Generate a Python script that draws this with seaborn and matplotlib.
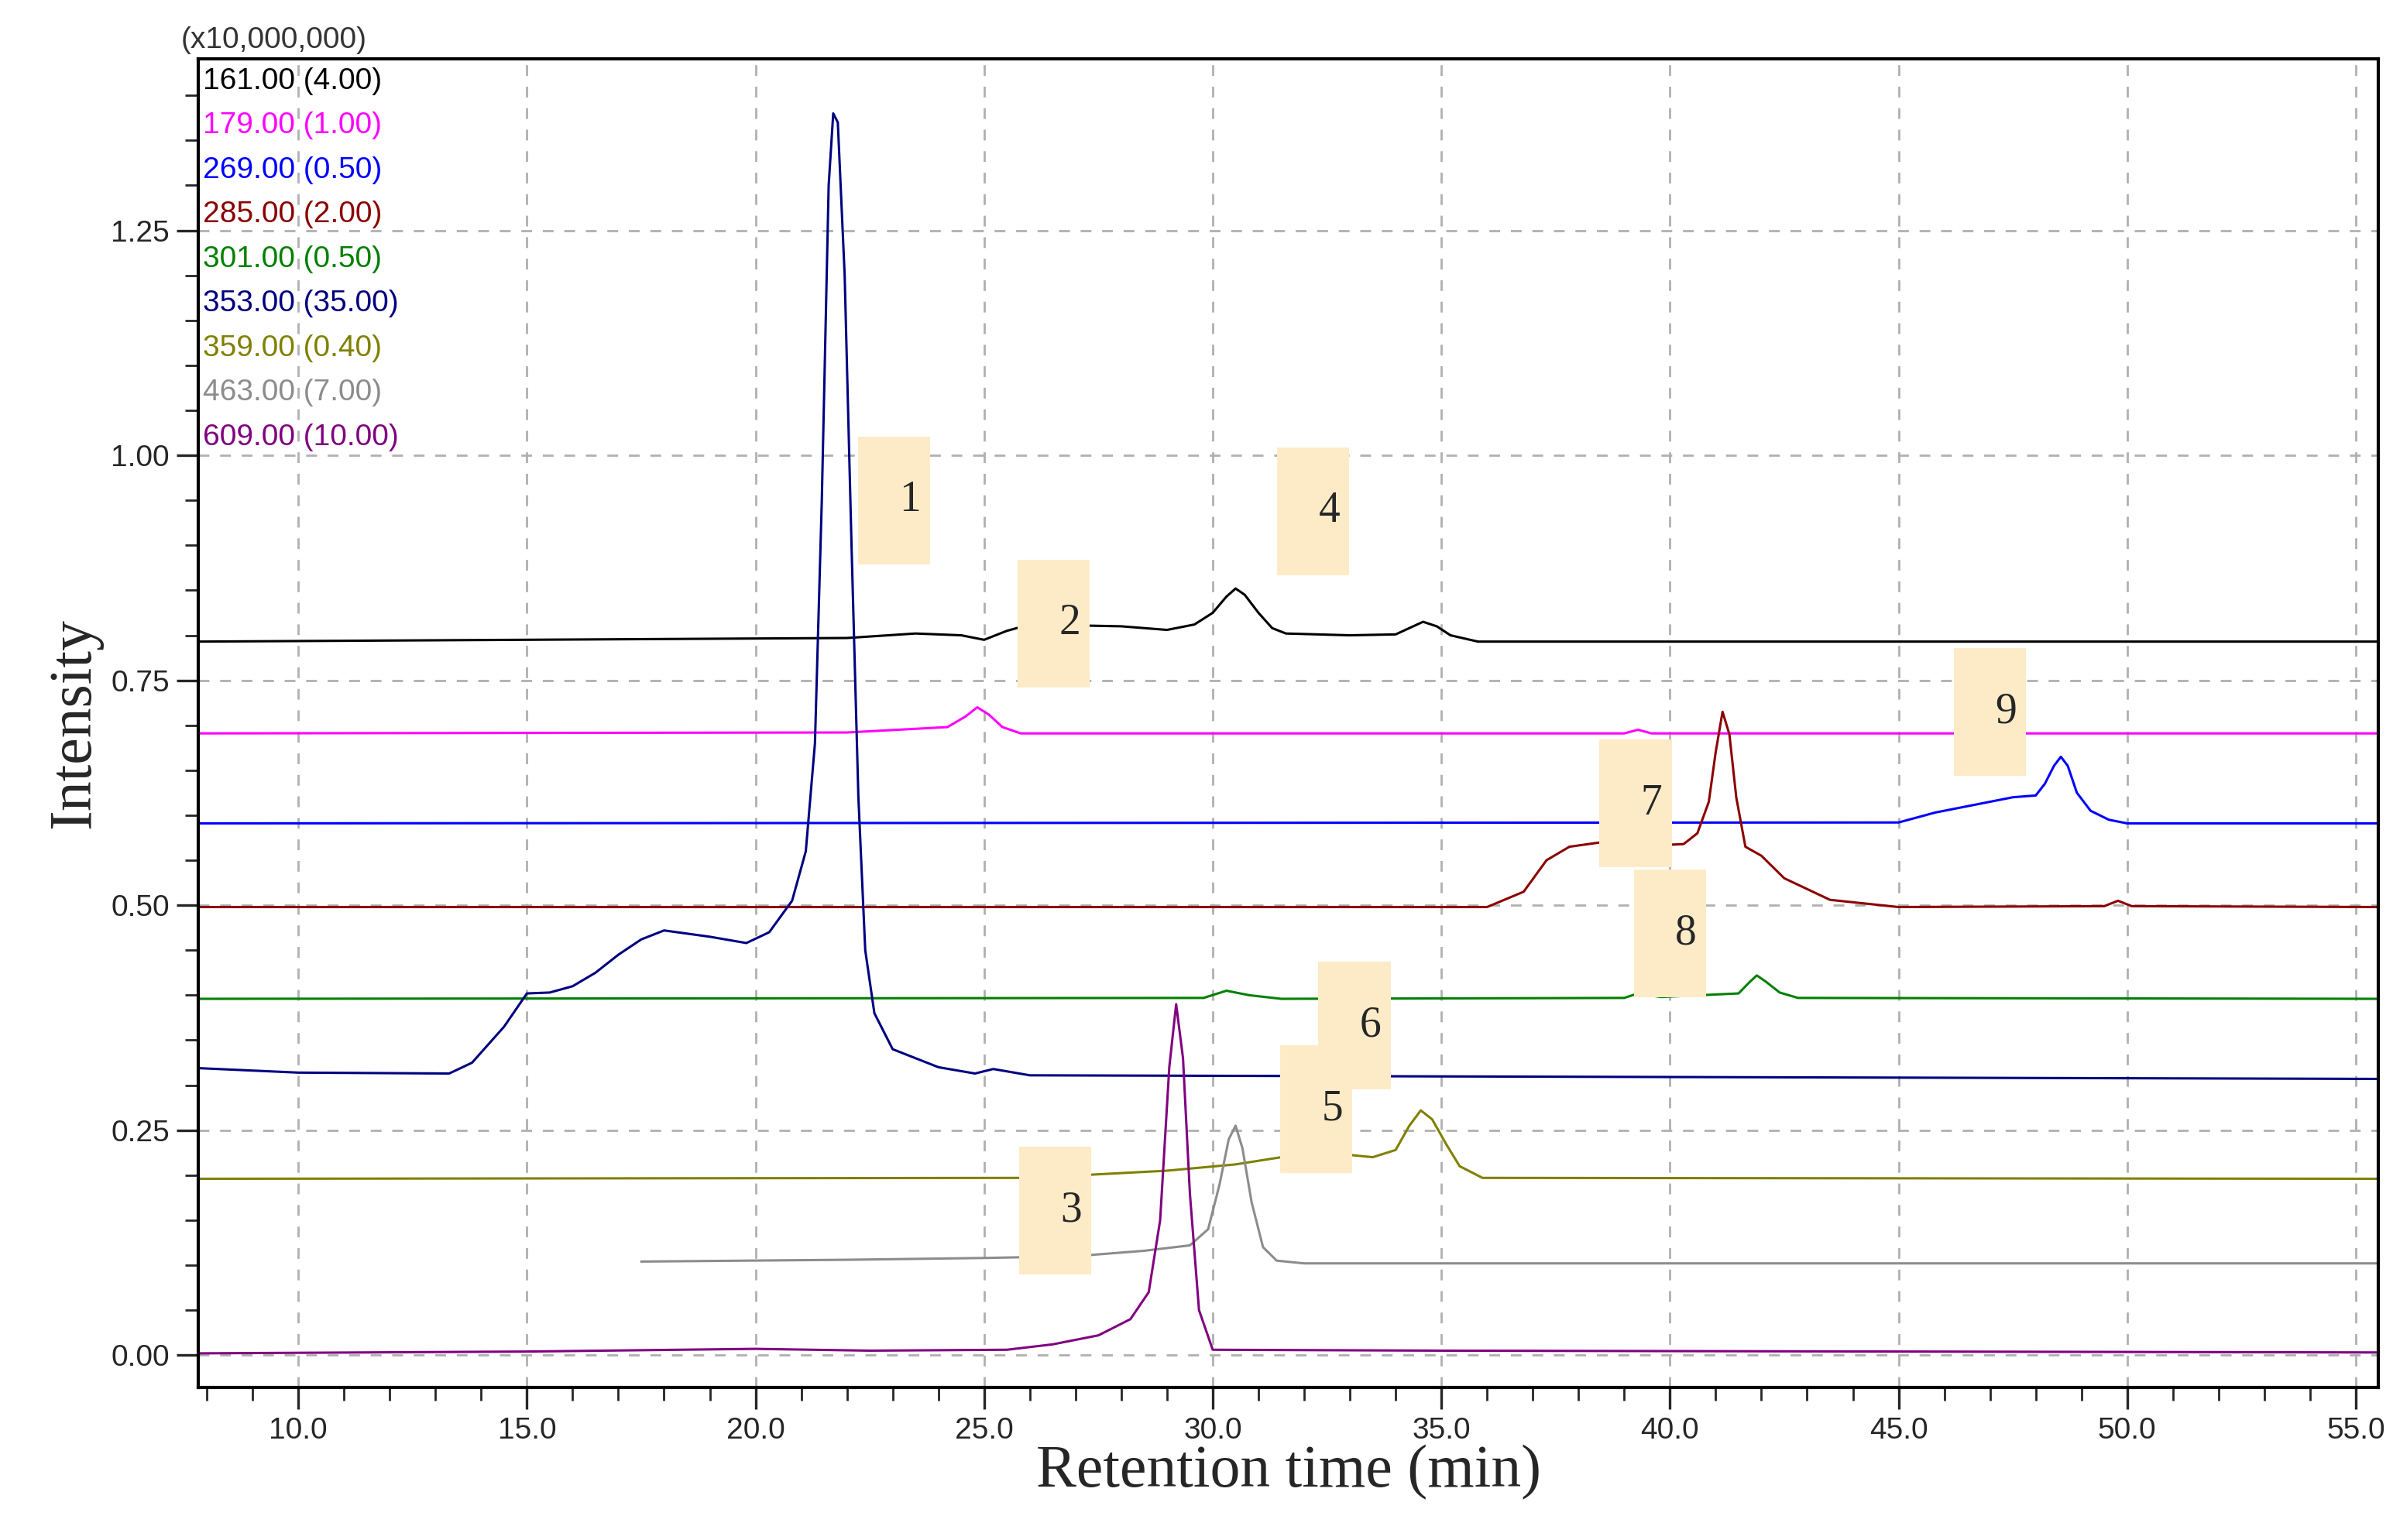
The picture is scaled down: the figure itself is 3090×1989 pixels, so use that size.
import pandas as pd
import matplotlib.pyplot as plt
import seaborn as sns
from matplotlib.patches import Rectangle
from matplotlib.ticker import MultipleLocator

# ---- traces: (retention time, intensity x1e7) ----
t161 = [7.8, 22.0, 23.5, 24.5, 25.0, 25.5, 26.0, 28.0, 29.0, 29.6, 30.0, 30.3, 30.5, 30.7, 31.0, 31.3, 31.6, 33.0, 34.0, 34.3, 34.6, 34.9, 35.2, 35.8, 55.5]
v161 = [0.793, 0.797, 0.802, 0.800, 0.795, 0.805, 0.812, 0.810, 0.806, 0.812, 0.825, 0.843, 0.852, 0.845, 0.825, 0.808, 0.802, 0.800, 0.801, 0.808, 0.815, 0.810, 0.800, 0.793, 0.793]
t179 = [7.8, 22.0, 24.2, 24.6, 24.85, 25.1, 25.4, 25.8, 39.0, 39.3, 39.6, 55.5]
v179 = [0.691, 0.692, 0.698, 0.710, 0.720, 0.712, 0.698, 0.691, 0.691, 0.695, 0.691, 0.691]
t269 = [7.8, 45.0, 45.8, 46.5, 47.5, 48.0, 48.2, 48.4, 48.55, 48.7, 48.9, 49.2, 49.6, 50.0, 55.5]
v269 = [0.591, 0.592, 0.603, 0.610, 0.620, 0.622, 0.635, 0.655, 0.665, 0.655, 0.625, 0.605, 0.595, 0.591, 0.591]
t285 = [7.8, 36.0, 36.8, 37.3, 37.8, 38.5, 39.5, 40.3, 40.6, 40.85, 41.0, 41.15, 41.3, 41.45, 41.65, 42.0, 42.5, 43.5, 45.0, 49.5, 49.8, 50.1, 55.5]
v285 = [0.498, 0.498, 0.515, 0.550, 0.565, 0.570, 0.566, 0.568, 0.580, 0.615, 0.670, 0.715, 0.690, 0.620, 0.565, 0.555, 0.530, 0.506, 0.498, 0.499, 0.505, 0.499, 0.498]
t301 = [7.8, 29.8, 30.3, 30.8, 31.5, 39.0, 39.3, 39.8, 41.5, 41.75, 41.9, 42.1, 42.4, 42.8, 55.5]
v301 = [0.396, 0.397, 0.405, 0.400, 0.396, 0.397, 0.402, 0.398, 0.402, 0.415, 0.422, 0.415, 0.403, 0.397, 0.396]
t353 = [7.8, 10.0, 13.3, 13.8, 14.5, 15.0, 15.5, 16.0, 16.5, 17.0, 17.5, 18.0, 19.0, 19.8, 20.3, 20.8, 21.1, 21.3, 21.45, 21.6, 21.7, 21.8, 21.95, 22.1, 22.25, 22.4, 22.6, 23.0, 24.0, 24.8, 25.2, 26.0, 55.5]
v353 = [0.319, 0.314, 0.313, 0.325, 0.365, 0.402, 0.403, 0.410, 0.425, 0.445, 0.462, 0.472, 0.465, 0.458, 0.470, 0.505, 0.560, 0.680, 0.950, 1.300, 1.380, 1.370, 1.200, 0.900, 0.620, 0.450, 0.380, 0.340, 0.320, 0.313, 0.318, 0.311, 0.307]
t359 = [7.8, 26.0, 27.5, 29.0, 30.5, 31.5, 32.5, 33.5, 34.0, 34.3, 34.55, 34.8, 35.1, 35.4, 35.9, 55.5]
v359 = [0.196, 0.197, 0.201, 0.205, 0.212, 0.220, 0.225, 0.220, 0.228, 0.255, 0.272, 0.262, 0.235, 0.210, 0.197, 0.196]
t463 = [17.5, 22.0, 25.0, 27.0, 28.5, 29.5, 29.9, 30.15, 30.35, 30.5, 30.65, 30.85, 31.1, 31.4, 32.0, 55.5]
v463 = [0.104, 0.106, 0.108, 0.110, 0.116, 0.122, 0.140, 0.190, 0.240, 0.255, 0.230, 0.170, 0.120, 0.105, 0.102, 0.102]
t609 = [7.8, 15.0, 20.0, 22.5, 25.5, 26.5, 27.5, 28.2, 28.6, 28.85, 29.05, 29.2, 29.35, 29.5, 29.7, 30.0, 35.0, 55.5]
v609 = [0.002, 0.004, 0.007, 0.005, 0.006, 0.012, 0.022, 0.040, 0.070, 0.150, 0.320, 0.390, 0.330, 0.180, 0.050, 0.006, 0.005, 0.003]

mz_labels = ["161.00", "179.00", "269.00", "285.00", "301.00", "353.00", "359.00", "463.00", "609.00"]
scale_labels = ["(4.00)", "(1.00)", "(0.50)", "(2.00)", "(0.50)", "(35.00)", "(0.40)", "(7.00)", "(10.00)"]
trace_colors = ["#000000", "#FF00FF", "#0000FF", "#8B0000", "#008000", "#000080", "#808000", "#8C8C8C", "#800080"]
times = [t161, t179, t269, t285, t301, t353, t359, t463, t609]
values = [v161, v179, v269, v285, v301, v353, v359, v463, v609]

# peak number boxes: label, centre time, centre intensity
peak_ids = ["1", "2", "4", "9", "7", "8", "6", "5", "3"]
peak_t = [23.03, 26.52, 32.20, 47.00, 39.25, 40.00, 33.10, 32.26, 26.55]
peak_v = [0.950, 0.813, 0.938, 0.715, 0.613, 0.469, 0.366, 0.273, 0.161]

rows = []
for mz, ts, vs in zip(mz_labels, times, values):
    for t, v in zip(ts, vs):
        rows.append({"time": t, "intensity": v, "mz": mz})
df = pd.DataFrame(rows)

sns.set_style("white")
narrow = ["Liberation Sans Narrow", "Liberation Sans", "DejaVu Sans"]
serif = ["Liberation Serif", "DejaVu Serif"]

fig = plt.figure(figsize=(15.45, 9.945), dpi=200)
ax = fig.add_axes([0.083, 0.099, 0.911, 0.863])

sns.lineplot(data=df, x="time", y="intensity", hue="mz", palette=dict(zip(mz_labels, trace_colors)),
             estimator=None, sort=False, legend=False, linewidth=1.1, ax=ax)

ax.set_xticks([10, 15, 20, 25, 30, 35, 40, 45, 50, 55])
ax.set_xticklabels([f"{x:.1f}" for x in ax.get_xticks()], family=narrow)
ax.xaxis.set_minor_locator(MultipleLocator(1))
ax.set_yticks([0, 0.25, 0.5, 0.75, 1.0, 1.25])
ax.set_yticklabels([f"{y:.2f}" for y in ax.get_yticks()], family=narrow)
ax.yaxis.set_minor_locator(MultipleLocator(0.05))
ax.set_xlim(7.82, 55.5)
ax.set_ylim(-0.036, 1.441)
ax.tick_params(axis="both", which="major", direction="out", length=10, width=1.2, labelsize=14, left=True, bottom=True)
ax.tick_params(axis="both", which="minor", direction="out", length=6, width=1.0, left=True, bottom=True)
ax.grid(True, which="major", linestyle=(0, (5, 5)), color="#B0B0B0", linewidth=1.0)
for s in ax.spines.values():
    s.set_linewidth(1.5)
    s.set_color("black")

ax.set_xlabel("Retention time (min)", family=serif, fontsize=28, labelpad=0)
ax.set_ylabel("Intensity", family=serif, fontsize=28, labelpad=4)

ax.text(-0.008, 1.003, "(x10,000,000)", transform=ax.transAxes, family=narrow, fontsize=14,
        color="#333333", va="bottom", ha="left")
for i, (mz, sc, c) in enumerate(zip(mz_labels, scale_labels, trace_colors)):
    ax.text(0.002, 0.983 - i * 0.0335, f"{mz} {sc}", transform=ax.transAxes, family=narrow,
            fontsize=14, color=c, va="center", ha="left")

w, h = 1.58, 0.142
for lab, t, v in zip(peak_ids, peak_t, peak_v):
    ax.add_patch(Rectangle((t - w / 2, v - h / 2), w, h, facecolor="#FDEBC8", edgecolor="none", zorder=5))
    ax.text(t + 0.35, v, lab, family=serif, fontsize=20, ha="center", va="center", zorder=6)

fig.savefig("out.png", dpi=200)
